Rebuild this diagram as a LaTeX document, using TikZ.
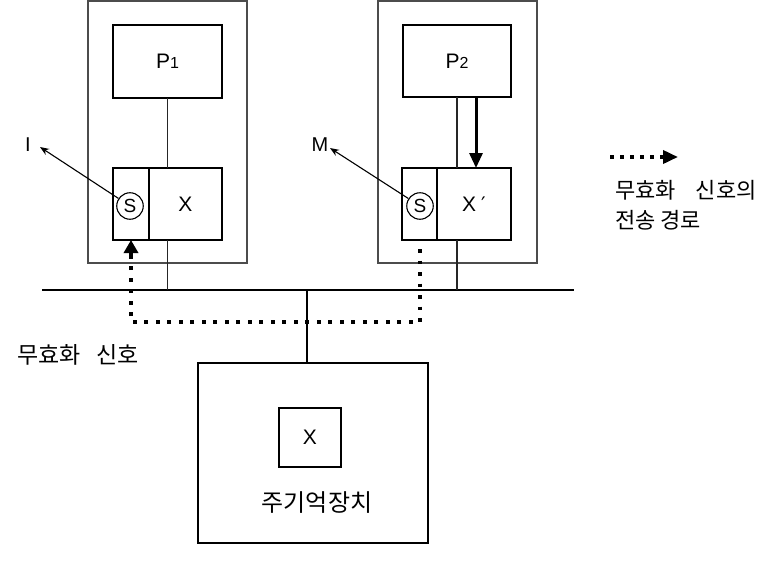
\documentclass[tikz,border=0pt]{standalone}
\usepackage{fontspec}
\setmainfont{Liberation Sans}
\newfontfamily\krfont{Noto Sans CJK KR}
\newfontfamily\dvfont{DejaVu Sans}
\usetikzlibrary{arrows.meta}
\begin{document}
\begin{tikzpicture}[x=1pt,y=-1pt,
  outerbox/.style={draw=black!70, line width=1.2pt, inner sep=0pt, outer sep=0pt},
  innerbox/.style={draw=black, line width=1.8pt, inner sep=0pt, outer sep=0pt, font=\fontsize{21}{21}\selectfont},
  thinline/.style={draw=black!85, line width=1.2pt},
  busline/.style={draw=black, line width=2pt},
  scircle/.style={circle, draw=black, line width=1.1pt, minimum size=26.5pt, inner sep=0pt, font=\fontsize{19}{19}\selectfont},
  thinarrow/.style={draw=black, line width=1.1pt, -{Stealth[length=9pt,width=7pt]}},
  dotline/.style={draw=black, line width=3.6pt, dash pattern=on 3.6pt off 7.9pt},
  lbl/.style={font=\fontsize{20}{20}\selectfont, inner sep=0pt},
  krlbl/.style={font={\krfont\fontsize{22}{30}\selectfont}, inner sep=0pt}
]
\useasboundingbox (0,0) rectangle (774,562);

% left processor
\node[outerbox, minimum width=159pt, minimum height=262pt] (outL) at (167.5,132) {};
\node[innerbox, minimum width=109pt, minimum height=73pt] (p1) at (167.5,61.5) {P{\fontsize{16}{16}\selectfont 1}};
\node[innerbox, minimum width=36pt, minimum height=72pt] (sL) at (131,204) {};
\node[innerbox, minimum width=73pt, minimum height=72pt] (xL) at (185.5,204) {X};
\node[scircle] (cL) at (130,206) {S};
\coordinate (iTip) at (40,147);
\node[lbl] (iL) at (28,145) {I};
\draw[thinarrow] (cL) -- (iTip);

% right processor
\node[outerbox, minimum width=159pt, minimum height=262pt] (outR) at (457.5,132) {};
\node[innerbox, minimum width=108pt, minimum height=72pt] (p2) at (457,61) {P{\fontsize{16}{16}\selectfont 2}};
\node[innerbox, minimum width=35pt, minimum height=72pt] (sR) at (419.5,204) {};
\node[innerbox, minimum width=74pt, minimum height=72pt] (xR) at (474,204) {X\hspace{5pt}{\dvfont\fontsize{20}{20}\selectfont ′}};
\node[scircle] (cR) at (420,206) {S};
\coordinate (mTip) at (330,148);
\node[lbl] (mL) at (320,145) {M};
\draw[thinarrow] (cR) -- (mTip);

% bus
\coordinate (busL) at (42,290);
\coordinate (busR) at (574,290);
\coordinate (busM) at (307,290);
\draw[busline] (busL) -- (busR);

% connections
\draw[thinline] (p1.south) -- (p1.south |- xL.north);
\draw[thinline] (p1.south |- xL.south) -- (p1.south |- busM);
\draw[thinline] (p2.south) -- (p2.south |- xR.north);
\draw[thinline] (p2.south |- xR.south) -- (p2.south |- busM);
\draw[draw=black, line width=3pt, -{Triangle[length=15pt,width=13pt]}] ([xshift=19pt]p2.south) -- ([xshift=19pt]p2.south |- xR.north);

% main memory
\node[innerbox, minimum width=230pt, minimum height=180pt] (mem) at (313,453) {};
\node[innerbox, minimum width=62pt, minimum height=59pt] (memX) at (310,437.5) {X};
\node[krlbl, font={\krfont\fontsize{24}{24}\selectfont}] (memT) at (317,503) {주기억장치};
\draw[busline] (busM) -- (busM |- mem.north);

% invalidation path
\coordinate (dStart) at (420,249);
\coordinate (dCornerR) at (420,322);
\draw[dotline] (dStart) -- (dCornerR) -| ([yshift=-14pt]sL.south);
\draw[draw=black, line width=3.6pt, -{Triangle[length=13pt,width=14pt]}] ([yshift=-16pt]sL.south) -- (sL.south);
\node[krlbl, font={\krfont\fontsize{23}{23}\selectfont}] (invL) at (78,355) {무효화\hspace{16pt}신호};

% legend
\coordinate (legA) at (610,157);
\coordinate (legB) at (664,157);
\coordinate (legC) at (678,157);
\draw[dotline, dash pattern=on 4pt off 6pt] (legA) -- (legB);
\draw[draw=black, line width=3.6pt, -{Triangle[length=15pt,width=13pt]}] ([xshift=-2pt]legB) -- (legC);
\node[krlbl, anchor=west, align=left] (legT) at (615,205) {무효화\hspace{20pt}신호의\\전송 경로};
\end{tikzpicture}
\end{document}
